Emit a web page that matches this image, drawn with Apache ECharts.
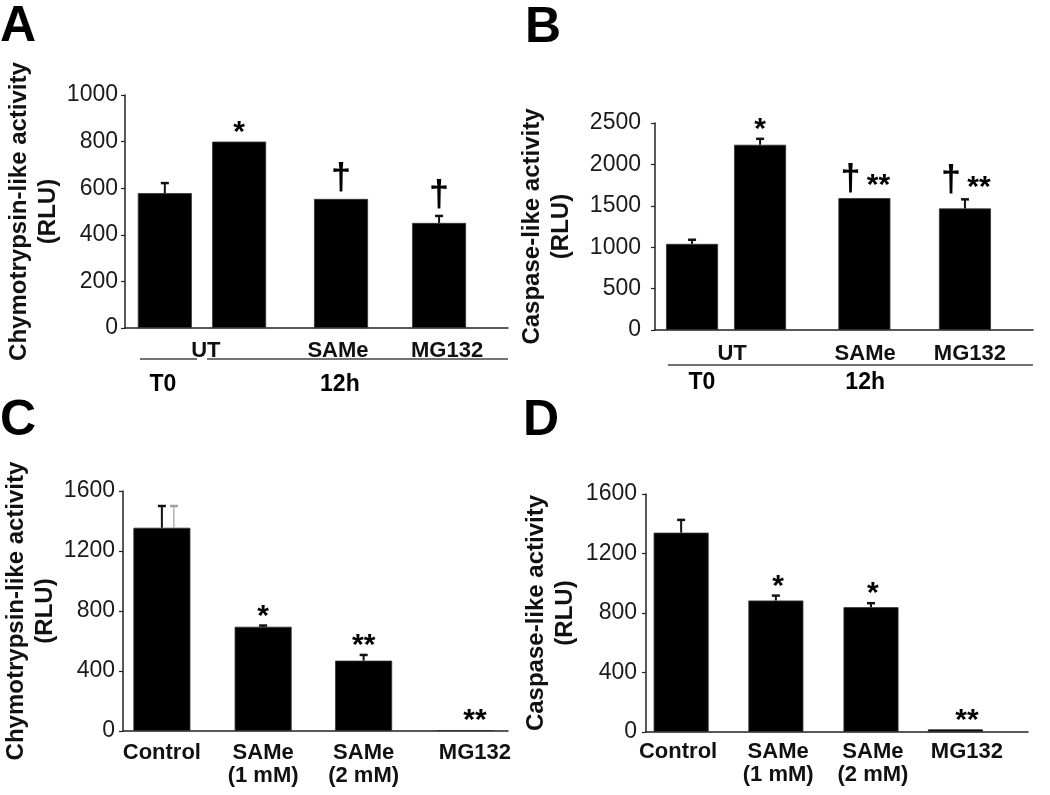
<!DOCTYPE html>
<html><head><meta charset="utf-8">
<script src="https://cdn.jsdelivr.net/npm/echarts@6/dist/echarts.min.js"></script>
<style>html,body{margin:0;padding:0;background:#fff}#c{width:1050px;height:795px}</style>
</head><body><div id="c"></div>
<script>
// ---------- DATA ----------
// Panel A: chymotrypsin-like activity (T0, 12h UT, 12h SAMe, 12h MG132)
const labelsA = ['UT', 'SAMe', 'MG132'];
const valuesA = [579, 800, 554, 451];
const errorsA = [43, 0, 0, 30];
const marksA = ['', '*', '†', '†'];
const groupsA = ['T0', '12h'];
const yMaxA = 1000, yStepA = 200;

// Panel B: caspase-like activity
const labelsB = ['UT', 'SAMe', 'MG132'];
const valuesB = [1040, 2237, 1593, 1468];
const errorsB = [50, 72, 0, 110];
const marksB = ['', '*', '† **', '† **'];
const groupsB = ['T0', '12h'];
const yMaxB = 2500, yStepB = 500;

// Panel C: chymotrypsin-like activity, dose
const labelsC = ['Control', 'SAMe\n(1 mM)', 'SAMe\n(2 mM)', 'MG132'];
const valuesC = [1355, 695, 469, 6];
const errorsC = [145, 8, 38, 0];
const ghostErrorsC = [145, 0, 0, 0];
const marksC = ['', '*', '**', '**'];
const yMaxC = 1600, yStepC = 400;

// Panel D: caspase-like activity, dose
const labelsD = ['Control', 'SAMe\n(1 mM)', 'SAMe\n(2 mM)', 'MG132'];
const valuesD = [1340, 884, 839, 18];
const errorsD = [86, 33, 27, 0];
const marksD = ['', '*', '*', '**'];
const yMaxD = 1600, yStepD = 400;

// ---------- LAYOUT (x in axis units 0..10) ----------
const FONT = '"Liberation Sans", Arial, Helvetica, sans-serif';
const panels = [
  { letter: 'A', lx: 0, ly: 2, name: 'Chymotrypsin-like activity\n(RLU)', nameGap: 62, tickMargin: 7,
    grid: { left: 125, top: 95, width: 383, height: 233 },
    barX: [1.04, 2.98, 5.64, 8.20], labelX: [2.11, 5.56, 8.41], barWidth: 54, labelMargin: 11,
    labels: labelsA, values: valuesA, errors: errorsA, marks: marksA, annotAtLabel: false,
    yMax: yMaxA, yStep: yStepA,
    groups: groupsA, groupLines: [[0.39, 1.88], [2.14, 10]], groupLabelX: [0.99, 5.61], lineOff: 31, groupOff: 57 },
  { letter: 'B', lx: 525, ly: 3, name: 'Caspase-like activity\n(RLU)', nameGap: 79, tickMargin: 14,
    grid: { left: 655, top: 123, width: 378, height: 207 },
    barX: [0.98, 2.78, 5.54, 8.20], labelX: [2.04, 5.56, 8.33], barWidth: 52, labelMargin: 12,
    labels: labelsB, values: valuesB, errors: errorsB, marks: marksB, annotAtLabel: false,
    yMax: yMaxB, yStep: yStepB,
    groups: groupsB, groupLines: [[0.34, 10]], groupLabelX: [1.24, 5.56], lineOff: 35, groupOff: 53 },
  { letter: 'C', lx: 0, ly: 396, name: 'Chymotrypsin-like activity\n(RLU)', nameGap: 60, tickMargin: 8,
    grid: { left: 123, top: 491, width: 385, height: 240 },
    barX: [1.01, 3.64, 6.25, 8.88], labelX: [1.01, 3.64, 6.25, 9.14], barWidth: 57, labelMargin: 10,
    labels: labelsC, values: valuesC, errors: errorsC, ghost: ghostErrorsC, marks: marksC, annotAtLabel: true,
    yMax: yMaxC, yStep: yStepC },
  { letter: 'D', lx: 523, ly: 396, name: 'Caspase-like activity\n(RLU)', nameGap: 66, tickMargin: 9,
    grid: { left: 646, top: 494, width: 382, height: 238 },
    barX: [0.92, 3.40, 5.89, 8.10], labelX: [0.84, 3.46, 5.94, 8.40], barWidth: 55, labelMargin: 8,
    labels: labelsD, values: valuesD, errors: errorsD, marks: marksD, annotAtLabel: true,
    yMax: yMaxD, yStep: yStepD }
];

// ---------- BUILD ----------
const option = { animation: false, backgroundColor: '#fff', title: [], grid: [], xAxis: [], yAxis: [], series: [] };

function errRender(color, dx, w) {
  return function (params, api) {
    const x = api.value(0), v = api.value(1), e = api.value(2);
    if (!(e > 0)) return null;
    const b = api.coord([x, v]), t = api.coord([x, v + e]);
    const cx = b[0] + dx;
    return { type: 'group', children: [
      { type: 'line', shape: { x1: cx, y1: b[1], x2: cx, y2: t[1] }, style: { stroke: color, lineWidth: w } },
      { type: 'line', shape: { x1: cx - 4, y1: t[1], x2: cx + 4, y2: t[1] }, style: { stroke: color, lineWidth: 2.5 } }
    ] };
  };
}

function markText(txt, x, y, size) {
  return { type: 'text', x: x, y: y,
    style: { text: txt, fill: '#000', fontSize: size, fontWeight: 'bold', fontFamily: FONT,
      align: 'center', verticalAlign: 'middle' } };
}

panels.forEach((p, i) => {
  option.title.push({ text: p.letter, left: p.lx, top: p.ly, padding: 0,
    textStyle: { fontSize: 50, fontWeight: 'bold', fontFamily: FONT, color: '#000' } });
  option.grid.push(Object.assign({ containLabel: false }, p.grid));
  const labelX = p.labelX;
  option.xAxis.push({
    gridIndex: i, type: 'value', min: 0, max: 10,
    axisLine: { show: true, onZero: false, lineStyle: { color: '#222', width: 1.5 } },
    axisTick: { show: false }, splitLine: { show: false },
    axisLabel: {
      customValues: labelX, margin: p.labelMargin,
      fontSize: 22, fontWeight: 'bold', fontFamily: FONT, color: '#111', lineHeight: 23,
      formatter: function (v) {
        const k = labelX.findIndex(q => Math.abs(q - v) < 1e-6);
        return k >= 0 ? p.labels[k] : '';
      }
    }
  });
  option.yAxis.push({
    gridIndex: i, type: 'value', min: 0, max: p.yMax, interval: p.yStep,
    name: p.name, nameLocation: 'middle', nameRotate: 90, nameGap: p.nameGap,
    nameTextStyle: { fontSize: 24, fontWeight: 'bold', fontFamily: FONT, color: '#111', lineHeight: 29 },
    axisLine: { show: true, lineStyle: { color: '#222', width: 1.5 } },
    axisTick: { show: true, length: 4, lineStyle: { color: '#222', width: 1.2 } },
    splitLine: { show: false },
    axisLabel: { fontSize: 23, fontFamily: FONT, color: '#1a1a1a', margin: p.tickMargin,
      formatter: function (v) { return String(v); } }
  });
  // bars
  option.series.push({
    type: 'bar', xAxisIndex: i, yAxisIndex: i, barWidth: p.barWidth,
    data: p.values.map((v, k) => [p.barX[k], v]),
    itemStyle: { color: '#000', borderColor: '#333', borderWidth: 0.8 }
  });
  // error bars
  option.series.push({
    type: 'custom', xAxisIndex: i, yAxisIndex: i, z: 3,
    data: p.values.map((v, k) => [p.barX[k], v, p.errors[k]]),
    renderItem: errRender('#111', 0, 2)
  });
  if (p.ghost) {
    option.series.push({
      type: 'custom', xAxisIndex: i, yAxisIndex: i, z: 3,
      data: p.values.map((v, k) => [p.barX[k], v, p.ghost[k]]),
      renderItem: errRender('#a0a0a0', 12, 1.2)
    });
  }
  // significance marks
  option.series.push({
    type: 'custom', xAxisIndex: i, yAxisIndex: i, z: 4,
    data: p.values.map((v, k) => [p.annotAtLabel ? p.labelX[k] : p.barX[k], v + p.errors[k]]),
    renderItem: function (params, api) {
      const txt = p.marks[params.dataIndex];
      if (!txt) return null;
      const c = api.coord([api.value(0), api.value(1)]);
      const parts = txt.split(' ');
      const children = [];
      if (parts.length === 2) {
        children.push(markText(parts[0], c[0] - 14, c[1] - 18, 36));
        children.push(markText(parts[1], c[0] + 14, c[1] - 12, 30));
      } else if (txt === '†') {
        children.push(markText(txt, c[0], c[1] - 20, 36));
      } else {
        children.push(markText(txt, c[0], c[1] - 9, 30));
      }
      return { type: 'group', children: children };
    }
  });
  // time-group lines and labels (panels A, B)
  if (p.groups) {
    option.series.push({
      type: 'custom', xAxisIndex: i, yAxisIndex: i, z: 4, clip: false,
      data: [[0, 0]],
      renderItem: function (params, api) {
        const y0 = api.coord([0, 0])[1];
        const children = [];
        p.groupLines.forEach(function (seg) {
          const xa = api.coord([seg[0], 0])[0], xb = api.coord([seg[1], 0])[0];
          children.push({ type: 'line', shape: { x1: xa, y1: y0 + p.lineOff, x2: xb, y2: y0 + p.lineOff },
            style: { stroke: '#444', lineWidth: 1.6 } });
        });
        p.groups.forEach(function (t, k) {
          const x = api.coord([p.groupLabelX[k], 0])[0];
          children.push({ type: 'text', x: x, y: y0 + p.groupOff,
            style: { text: t, fill: '#000', fontSize: 23, fontWeight: 'bold', fontFamily: FONT,
              align: 'center', verticalAlign: 'middle' } });
        });
        return { type: 'group', children: children };
      }
    });
  }
});

const chart = echarts.init(document.getElementById('c'), null, { renderer: 'canvas' });
chart.setOption(option);
</script>
</body></html>
